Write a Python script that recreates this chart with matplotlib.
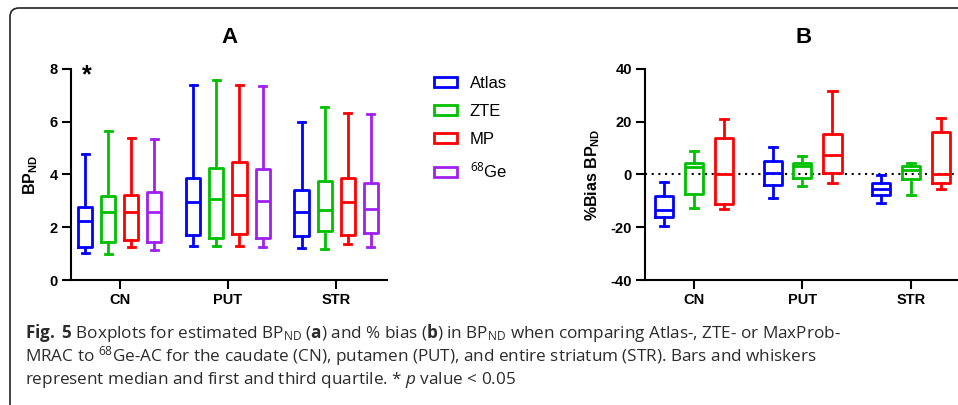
import matplotlib
matplotlib.use("Agg")
import matplotlib.pyplot as plt
import matplotlib.transforms as mtransforms
from matplotlib.patches import Patch, FancyBboxPatch

# --- datos (min, Q1, mediana, Q3, max) por región ---
regiones = ['CN', 'PUT', 'STR']
metodos_a = ['Atlas', 'ZTE', 'MP', '$^{68}$Ge']
metodos_b = ['Atlas', 'ZTE', 'MP']

atlas_bp = [[1.01, 1.25, 2.24, 2.78, 4.78], [1.30, 1.70, 2.94, 3.86, 7.41], [1.22, 1.68, 2.56, 3.42, 6.00]]
zte_bp = [[0.97, 1.44, 2.58, 3.19, 5.65], [1.30, 1.58, 3.06, 4.23, 7.59], [1.18, 1.84, 2.67, 3.75, 6.56]]
mp_bp = [[1.24, 1.51, 2.56, 3.23, 5.37], [1.30, 1.75, 3.23, 4.46, 7.39], [1.37, 1.72, 2.94, 3.86, 6.32]]
ge_bp = [[1.14, 1.44, 2.56, 3.32, 5.34], [1.24, 1.59, 2.99, 4.19, 7.37], [1.27, 1.78, 2.70, 3.68, 6.29]]

atlas_bias = [[-19.5, -16.2, -13.5, -8.2, -2.8], [-8.9, -4.0, 0.7, 5.1, 10.4], [-10.9, -7.8, -5.4, -3.1, -0.3]]
zte_bias = [[-12.8, -7.5, 3.0, 4.5, 8.9], [-4.4, -1.2, 3.3, 4.2, 7.0], [-7.8, -1.8, 1.8, 3.3, 4.2]]
mp_bias = [[-13.1, -11.3, 0.0, 14.0, 21.2], [-3.1, 0.6, 7.3, 15.5, 31.7], [-5.6, -3.4, 0.2, 16.2, 21.3]]

colores = ['#0000FF', '#00C000', '#FF0000', '#A020F0']

plt.rcParams['font.family'] = ['Liberation Sans', 'DejaVu Sans']
plt.rcParams['axes.unicode_minus'] = False
plt.rcParams['mathtext.fontset'] = 'custom'
plt.rcParams['mathtext.rm'] = 'Open Sans'
plt.rcParams['mathtext.it'] = 'Open Sans:italic'
plt.rcParams['mathtext.bf'] = 'Open Sans:bold'
plt.rcParams['mathtext.sf'] = 'Liberation Sans:bold'
plt.rcParams['mathtext.tt'] = 'Liberation Sans'


def stats_de(resumen):
    lo, q1, med, q3, hi = resumen
    return dict(whislo=lo, q1=q1, med=med, q3=q3, whishi=hi, fliers=[])


def dibujar_cajas(ax, series, offsets, ancho, cap):
    for serie, off, c in zip(series, offsets, colores):
        pos = [i + off for i in range(len(regiones))]
        props = dict(color=c, linewidth=2.0)
        ax.bxp([stats_de(r) for r in serie], positions=pos, widths=ancho,
               capwidths=cap, showfliers=False, patch_artist=False,
               boxprops=props, whiskerprops=props, capprops=props,
               medianprops=props, manage_ticks=False)


def estilo_ejes(ax):
    for s in ['top', 'right']:
        ax.spines[s].set_visible(False)
    for s in ['left', 'bottom']:
        ax.spines[s].set_linewidth(1.5)
    ax.tick_params(width=1.5, length=6.5, labelsize=10.5, pad=3)
    ax.set_xticks(range(len(regiones)))
    ax.set_xticklabels(regiones, fontweight='bold')
    for lab in ax.get_yticklabels():
        lab.set_fontweight('bold')
    ax.set_xlim(-0.45, 2.47)


fig = plt.figure(figsize=(9.58, 4.05), dpi=100)

# Panel A
axA = fig.add_axes([71 / 958, 1 - 280 / 405, (387 - 71) / 958, 211 / 405])
dibujar_cajas(axA, [atlas_bp, zte_bp, mp_bp, ge_bp], [-0.32, -0.107, 0.107, 0.32], 0.13, 0.065)
axA.set_ylim(0, 8)
axA.set_yticks([0, 2, 4, 6, 8])
estilo_ejes(axA)
axA.set_ylabel('BP$_{\\sf ND}$', fontsize=11.5, fontweight='bold', labelpad=7)
axA.set_title('A', fontsize=16, fontweight='bold', pad=19)
axA.text(-0.3, 8.2, '*', fontsize=18, fontweight='bold', ha='center', va='top')

# Panel B
axB = fig.add_axes([645 / 958, 1 - 280 / 405, (962 - 645) / 958, 211 / 405])
axB.axhline(0, color='black', linewidth=1.5, linestyle=(0, (1, 2.2)), zorder=1)
dibujar_cajas(axB, [atlas_bias, zte_bias, mp_bias], [-0.273, 0.0, 0.277], 0.167, 0.075)
axB.set_ylim(-40, 40)
axB.set_yticks([-40, -20, 0, 20, 40])
estilo_ejes(axB)
axB.set_ylabel('%Bias BP$_{\\sf ND}$', fontsize=11.5, fontweight='bold', labelpad=6)
axB.set_title('B', fontsize=16, fontweight='bold', pad=19)

# leyenda
handles = [Patch(facecolor='white', edgecolor=c, linewidth=2.0) for c in colores]
fig.legend(handles, metodos_a, loc='center left', bbox_to_anchor=(434 / 958, 1 - 128 / 405),
           bbox_transform=fig.transFigure, frameon=False, fontsize=12,
           handlelength=1.35, handleheight=0.55, handletextpad=0.8,
           labelspacing=0.8, borderpad=0, borderaxespad=0)

# pie de figura
cap_kw = dict(family=['Open Sans', 'DejaVu Sans'], fontsize=12.3, color='#2b2b2b', va='baseline', ha='left')
fig.text(25 / 958, 1 - 338 / 405,
         '$\\bf{Fig.}$ $\\bf{5}$ Boxplots for estimated BP$_{\\rm ND}$ ($\\bf{a}$) and % bias ($\\bf{b}$) '
         'in BP$_{\\rm ND}$ when comparing Atlas-, ZTE- or MaxProb-', **cap_kw)
fig.text(25 / 958, 1 - 361 / 405,
         'MRAC to $^{\\it 68}$Ge-AC for the caudate (CN), putamen (PUT), and entire striatum (STR). '
         'Bars and whiskers', **cap_kw)
fig.text(25 / 958, 1 - 384 / 405,
         'represent median and first and third quartile. * $\\it{p}$ value < 0.05', **cap_kw)

# marco redondeado
marco = FancyBboxPatch((10, -20), 1000, 397 + 20, boxstyle='round,pad=0,rounding_size=9',
                       transform=mtransforms.IdentityTransform(), facecolor='none',
                       edgecolor='#222222', linewidth=1.2)
fig.add_artist(marco)

fig.savefig('out.png', dpi=100)
